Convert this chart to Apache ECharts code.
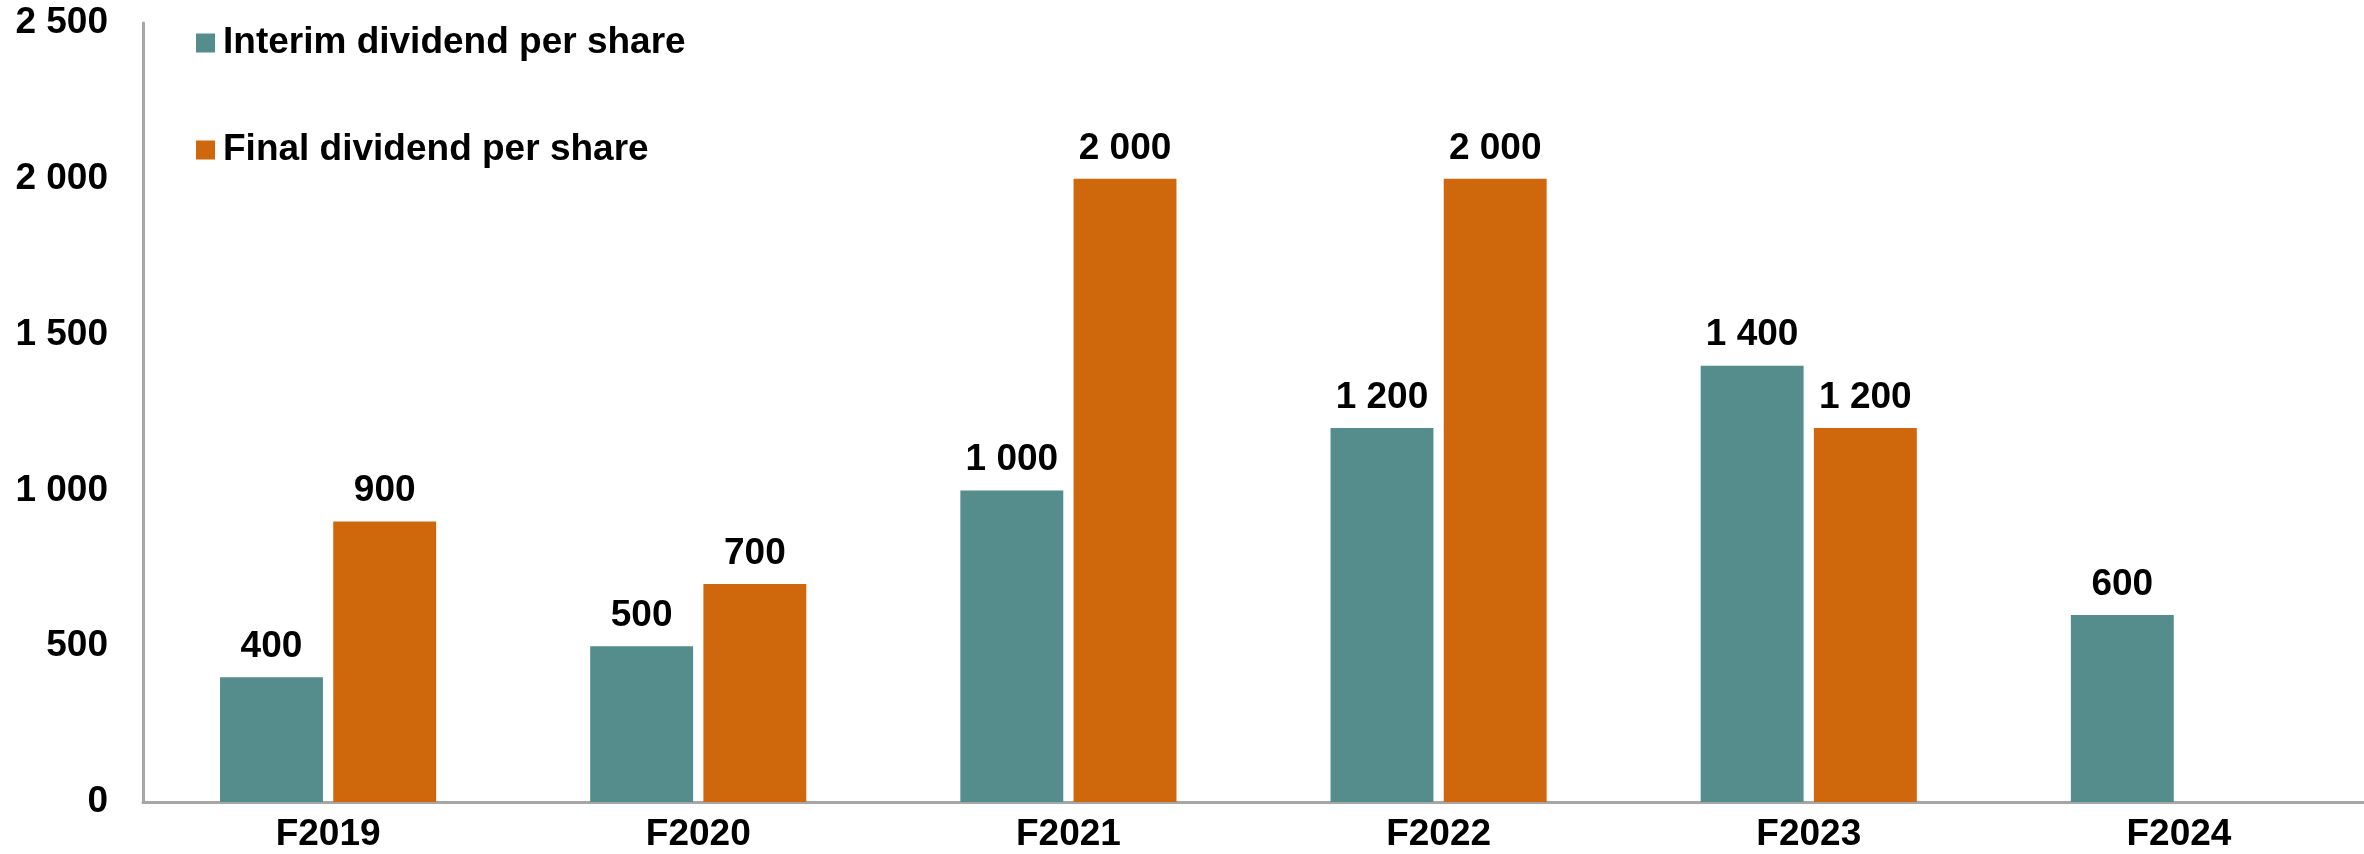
<!DOCTYPE html>
<html>
<head>
<meta charset="utf-8">
<title>Dividend per share</title>
<script src="https://cdn.jsdelivr.net/npm/echarts@6/dist/echarts.min.js"></script>
<style>
  html, body { margin: 0; padding: 0; background: #ffffff; }
  #chart { width: 2364px; height: 854px; }
</style>
</head>
<body>
<div id="chart"></div>
<script>
// Financial years on the category axis
const years = ['F2019', 'F2020', 'F2021', 'F2022', 'F2023', 'F2024'];
// Dividend per share for each year
const interimDividend = [400, 500, 1000, 1200, 1400, 600];
const finalDividend = [900, 700, 2000, 2000, 1200, null];
// Value axis range
const axisMin = 0;
const axisMax = 2500;
const axisStep = 500;

const FONT = '"Liberation Sans", Arial, sans-serif';
const FONT_SIZE = 37;
const TEAL = '#548d8c';
const ORANGE = '#cf670c';
const AXIS_GREY = '#a6a6a6';

// Thousands grouped with a space: 2000 -> "2 000"
function groupDigits(v) {
  return String(v).replace(/\B(?=(\d{3})+(?!\d))/g, ' ');
}

const labelStyle = {
  show: true,
  position: 'top',
  distance: 12,
  color: '#000',
  fontFamily: FONT,
  fontWeight: 'bold',
  fontSize: FONT_SIZE,
  formatter: p => groupDigits(p.value)
};

const chart = echarts.init(document.getElementById('chart'), null, { renderer: 'canvas' });
chart.setOption({
  animation: false,
  backgroundColor: '#ffffff',
  grid: { left: 143, right: 0, top: 23, bottom: 52, containLabel: false },
  legend: {
    orient: 'vertical',
    left: 191,
    top: 18,
    itemWidth: 19,
    itemHeight: 19,
    itemGap: 67,
    icon: 'rect',
    textStyle: {
      color: '#000',
      fontFamily: FONT,
      fontWeight: 'bold',
      fontSize: FONT_SIZE,
      lineHeight: 40,
      padding: [0, 0, 0, 3]
    },
    data: ['Interim dividend per share', 'Final dividend per share']
  },
  xAxis: {
    type: 'category',
    data: years,
    axisLine: { show: true, lineStyle: { color: AXIS_GREY, width: 3 } },
    axisTick: { show: false },
    axisLabel: {
      color: '#000',
      fontFamily: FONT,
      fontWeight: 'bold',
      fontSize: FONT_SIZE,
      margin: 14
    },
    splitLine: { show: false }
  },
  yAxis: {
    type: 'value',
    min: axisMin,
    max: axisMax,
    interval: axisStep,
    axisLine: { show: true, lineStyle: { color: AXIS_GREY, width: 3 } },
    axisTick: { show: false },
    splitLine: { show: false },
    axisLabel: {
      color: '#000',
      fontFamily: FONT,
      fontWeight: 'bold',
      fontSize: FONT_SIZE,
      margin: 35,
      formatter: v => groupDigits(v)
    }
  },
  series: [
    {
      name: 'Interim dividend per share',
      type: 'bar',
      data: interimDividend,
      barWidth: '27.8%',
      barGap: '10%',
      itemStyle: { color: TEAL },
      label: labelStyle
    },
    {
      name: 'Final dividend per share',
      type: 'bar',
      data: finalDividend,
      barWidth: '27.8%',
      barGap: '10%',
      itemStyle: { color: ORANGE },
      label: labelStyle
    }
  ]
});
</script>
</body>
</html>
